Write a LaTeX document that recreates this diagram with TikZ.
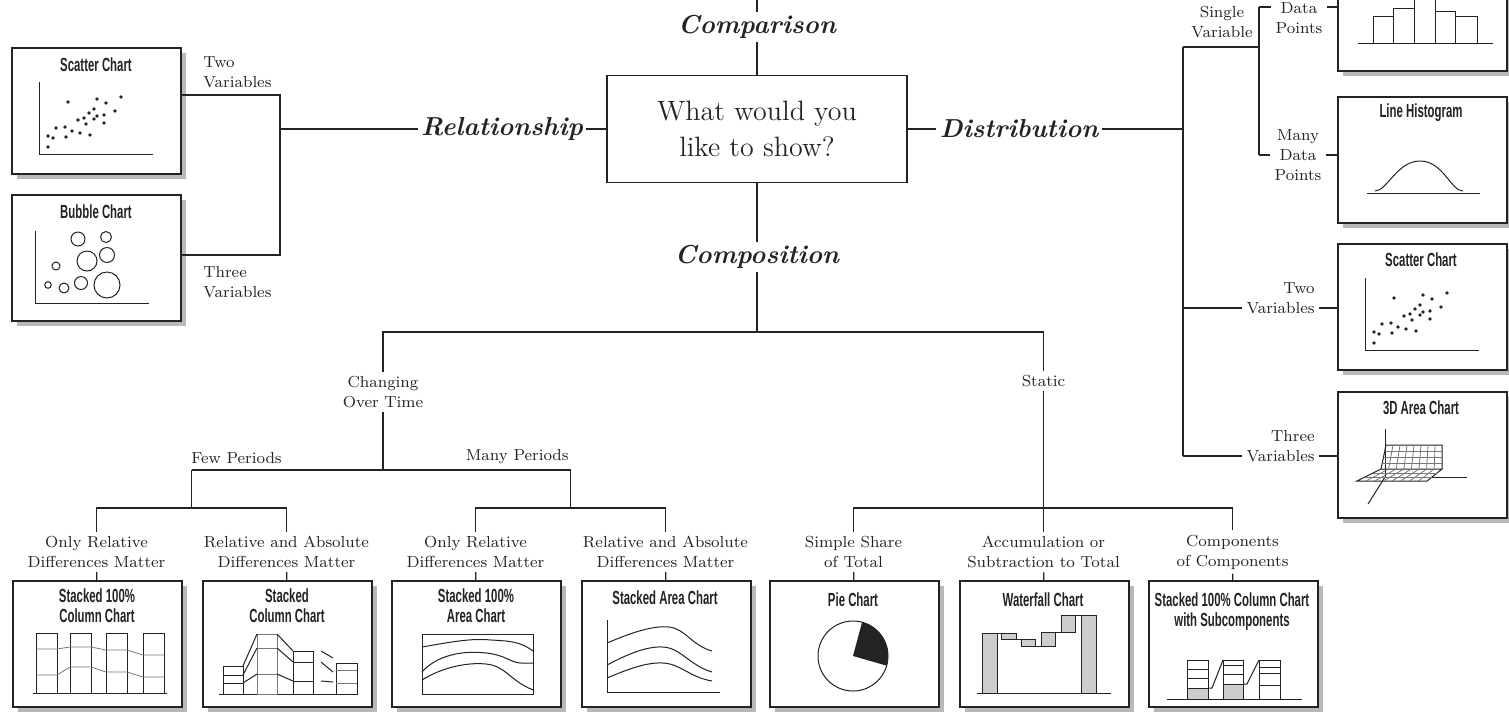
\documentclass[tikz,border=0pt]{standalone}
\usepackage{fontspec}
\usepackage{tikz}
\usetikzlibrary{positioning, shadows}
\newfontfamily\chartfont{Liberation Sans Bold}[FakeStretch=0.6]
\definecolor{ink}{RGB}{35,35,35}
\definecolor{shade}{RGB}{185,185,185}
\definecolor{lightfill}{RGB}{205,205,205}
\definecolor{midgray}{RGB}{120,120,120}

% scatter plot, drawn in box-local pixel coordinates
\newcommand{\scatterplot}{%
  \draw[chart] (28,35) -- (28,107) -- (142,107);
  \foreach \dx/\dy in {57/55, 86/52, 95/56, 110/50, 83/62, 78/66, 104/64, 93/68, 73/71,
      67/73, 86/69, 83/72, 75/77, 93/76, 45/81, 54/80, 61/84, 37/89, 42/91, 55/90,
      69/86, 79/88, 37/100}
    \fill[ink] (\dx,\dy) circle[radius=0.9pt];
}

\begin{document}
\begin{tikzpicture}[x=0.5pt, y=-0.5pt,
    every node/.style={text=ink},
    tree/.style={draw=ink, line width=0.65pt},
    chart/.style={draw=ink, line width=0.5pt},
    faint/.style={draw=midgray, line width=0.4pt},
    chartbox/.style={draw=ink, line width=0.9pt, fill=white, anchor=north west, inner sep=0pt,
        minimum width=84.5pt, minimum height=63pt,
        drop shadow={shadow xshift=2.5pt, shadow yshift=-2.5pt, fill=shade, opacity=1}},
    charttitle/.style={font=\chartfont\fontsize{9.5}{10}\selectfont, align=center, inner sep=0pt},
    branch/.style={font=\fontsize{8}{10}\selectfont, align=center, inner sep=2pt},
    topic/.style={font=\fontsize{13}{15}\selectfont\bfseries\itshape, inner sep=1.5pt}
  ]
  \useasboundingbox (0,0) rectangle (1509,714);
  \clip (0,0) rectangle (1509,714);

  % central question and the four topics
  \node[draw=ink, line width=0.75pt, minimum width=150pt, minimum height=53.5pt, align=center,
        font=\fontsize{14}{18}\selectfont] (q) at (757,129) {What would you\\like to show?};
  \node[topic] (cmp) at (757,27) {Comparison};
  \node[topic] (cps) at (757,257) {Composition};
  \node[topic] (rel) at (502,129) {Relationship};
  \node[topic] (dist) at (1019,129) {Distribution};
  \coordinate (top) at (757,0);
  \coordinate (cj) at (757,332);
  \draw[tree] (top) -- (cmp);
  \draw[tree] (cmp) -- (q);
  \draw[tree] (q) -- (cps);
  \draw[tree] (cps) -- (cj);
  \draw[tree] (q) -- (rel);
  \draw[tree] (q) -- (dist);

  % chart boxes
  \node[chartbox] (sctL) at (11,47) {};
  \node[chartbox] (bub) at (11,194) {};
  \node[chartbox] (hist) at (1337,-56) {};
  \node[chartbox] (lhist) at (1337,96) {};
  \node[chartbox] (sctR) at (1337,243) {};
  \node[chartbox] (area) at (1337,391) {};
  \node[chartbox] (pctcol) at (12,580) {};
  \node[chartbox] (stcol) at (202,580) {};
  \node[chartbox] (pctarea) at (391,580) {};
  \node[chartbox] (starea) at (581,580) {};
  \node[chartbox] (pie) at (769,580) {};
  \node[chartbox] (wfall) at (959,580) {};
  \node[chartbox] (subcol) at (1148,580) {};

  % relationship branch
  \coordinate (rj) at (280,129);
  \coordinate (rt) at (280,95);
  \coordinate (rb) at (280,255);
  \draw[tree] (rel) -- (rj);
  \draw[tree] (sctL.east |- rt) -- (rt) -- (rb) -- (bub.east |- rb);
  \node[branch, anchor=west, align=left] (tvL) at (199,72) {Two\\Variables};
  \node[branch, anchor=west, align=left] (thvL) at (199,282) {Three\\Variables};

  % distribution branch
  \coordinate (dt) at (1183,47);
  \coordinate (db) at (1183,456);
  \coordinate (tj) at (1183,308);
  \coordinate (sj) at (1259,47);
  \coordinate (s1) at (1259,7);
  \coordinate (s2) at (1259,155);
  \draw[tree] (dist) -- (dist -| dt);
  \draw[tree] (dt) -- (db);
  \draw[tree] (dt) -- (sj);
  \draw[tree] (s1) -- (s2);
  \node[branch] (sv) at (1222,22) {Single\\Variable};
  \node[branch] (fdp) at (1299,18) {Data\\Points};
  \node[branch] (mdp) at (1298,155) {Many\\Data\\Points};
  \node[branch, anchor=east, align=right] (tvR) at (1319,298) {Two\\Variables};
  \node[branch, anchor=east, align=right] (thvR) at (1319,446) {Three\\Variables};
  \draw[tree] (s1) -- (s1 -| fdp.west);
  \draw[tree] (s1 -| fdp.east) -- (s1 -| hist.west);
  \draw[tree] (s2) -- (mdp);
  \draw[tree] (mdp) -- (mdp -| lhist.west);
  \draw[tree] (tj) -- (tj -| tvR.west);
  \draw[tree] (tj -| tvR.east) -- (tj -| sctR.west);
  \draw[tree] (db) -- (db -| thvR.west);
  \draw[tree] (db -| thvR.east) -- (db -| area.west);

  % composition branch
  \node[branch] (chg) at (383,392) {Changing\\Over Time};
  \node[branch] (stc) at (1043.5,381) {Static};
  \draw[tree] (chg) |- (cj) -| (stc);
  \coordinate (fp) at (191.5,470);
  \coordinate (mp) at (570.5,470);
  \coordinate (fj) at (191.5,508);
  \coordinate (mj) at (570.5,508);
  \coordinate (sj2) at (1043.5,508);
  \draw[tree] (chg) -- (chg |- fp);
  \draw[tree] (fp) -- (mp);
  \draw[tree] (fp) -- (fj);
  \draw[tree] (mp) -- (mj);
  \draw[tree] (stc) -- (sj2);
  \node[branch, anchor=south west] (few) at (187,468) {Few Periods};
  \node[branch, anchor=south east] (many) at (573,468) {Many Periods};

  \node[branch] (or1) at (96.5,552) {Only Relative\\Differences Matter};
  \node[branch] (ra1) at (286.5,552) {Relative and Absolute\\Differences Matter};
  \node[branch] (or2) at (475.5,552) {Only Relative\\Differences Matter};
  \node[branch] (ra2) at (665.5,552) {Relative and Absolute\\Differences Matter};
  \node[branch] (sh) at (853.5,552) {Simple Share\\of Total};
  \node[branch] (acc) at (1043.5,552) {Accumulation or\\Subtraction to Total};
  \node[branch] (cc) at (1232.5,552) {Components\\of Components};
  \draw[tree] (or1) |- (fj) -| (ra1);
  \draw[tree] (or2) |- (mj) -| (ra2);
  \draw[tree] (sh) |- (sj2) -| (cc);
  \draw[tree] (sj2) -- (acc);
  \draw[tree] (or1) -- (pctcol);
  \draw[tree] (ra1) -- (stcol);
  \draw[tree] (or2) -- (pctarea);
  \draw[tree] (ra2) -- (starea);
  \draw[tree] (sh) -- (pie);
  \draw[tree] (acc) -- (wfall);
  \draw[tree] (cc) -- (subcol);

  % --- chart sketches, box-local pixel coordinates ---
  \begin{scope}[shift={(sctL.north west)}]
    \node[charttitle] (sctL-t) at (85,18) {Scatter Chart};
    \scatterplot
  \end{scope}

  \begin{scope}[shift={(bub.north west)}]
    \node[charttitle] (bub-t) at (85,18) {Bubble Chart};
    \draw[chart] (24,37) -- (24,109) -- (138,109);
    \foreach \bx/\by/\br in {67/45/7, 95/43/5.5, 76/67/10, 96/61/7.5, 45/72/4,
        37/91/3.3, 53/94/5, 70/89/6.5, 96/91/13}
      \draw[chart] (\bx,\by) circle[radius=\br*0.5pt];
  \end{scope}

  \begin{scope}[shift={(hist.north west)}]
    \draw[chart] (21,99) -- (156,99);
    \draw[chart] (36,99) rectangle (56,72);
    \draw[chart] (56,99) rectangle (77,64);
    \draw[chart] (77,99) rectangle (98,50);
    \draw[chart] (98,99) rectangle (118,67);
    \draw[chart] (118,99) rectangle (140,72);
  \end{scope}

  \begin{scope}[shift={(lhist.north west)}]
    \node[charttitle] (lhist-t) at (84,17) {Line Histogram};
    \draw[chart] (30,97) -- (143,97);
    \draw[chart] (38,95) .. controls (50,95) and (60,65) .. (83,65)
                 .. controls (106,65) and (114,95) .. (126,95);
  \end{scope}

  \begin{scope}[shift={(sctR.north west)}]
    \node[charttitle] (sctR-t) at (84,17) {Scatter Chart};
    \scatterplot
  \end{scope}

  \begin{scope}[shift={(area.north west)}]
    \node[charttitle] (area-t) at (84,17) {3D Area Chart};
    \draw[chart] (48,38) -- (48,86) -- (130,86);
    \draw[chart] (48,86) -- (31,113);
    \draw[chart] (20,90) -- (90,90) -- (105,78) -- (44,78) -- cycle;
    \draw[chart] (44,78) -- (49,54) -- (105,54) -- (105,78);
    \foreach \k in {1,...,7} {
      \pgfmathsetmacro\fa{20+8.75*\k}
      \pgfmathsetmacro\fb{44+7.6*\k}
      \pgfmathsetmacro\fc{49+7*\k}
      \draw[faint] (\fa,90) -- (\fb,78) -- (\fc,54);
    }
    \draw[faint] (28,86) -- (95,86);
    \draw[faint] (36,82) -- (100,82);
    \foreach \wy/\wx in {60/47.8, 66/46.5, 72/45.3}
      \draw[faint] (\wx,\wy) -- (105,\wy);
  \end{scope}

  \begin{scope}[shift={(pctcol.north west)}]
    \node[charttitle] (pctcol-t) at (85,26) {Stacked 100\%\\Column Chart};
    \draw[chart] (21,113) -- (155,113);
    \foreach \cx in {24,58,94,131}
      \draw[chart] (\cx,113) rectangle ++(21,-60);
    \draw[faint] (24,69) -- (45,69) -- (58,67) -- (79,67) -- (94,70) -- (115,70) -- (131,75) -- (152,75);
    \draw[faint] (24,95) -- (45,95) -- (58,87) -- (79,87) -- (94,92) -- (115,92) -- (131,97) -- (152,97);
  \end{scope}

  \begin{scope}[shift={(stcol.north west)}]
    \node[charttitle] (stcol-t) at (85,26) {Stacked\\Column Chart};
    \draw[chart] (17,114) -- (155,114);
    \draw[chart] (21,114) rectangle (41,86);
    \draw[faint] (55,114) rectangle (75,54);
    \draw[chart] (91,114) rectangle (111,71);
    \draw[chart] (134,114) rectangle (155,83);
    \draw[chart] (21,95) -- (41,95) (21,103) -- (41,103);
    \draw[faint] (55,68) -- (75,68) (55,94) -- (75,94);
    \draw[chart] (91,82) -- (111,82) (91,101) -- (111,101);
    \draw[faint] (134,90) -- (155,90) (134,103) -- (155,103);
    \draw[chart] (41,86) -- (55,54) (41,95) -- (55,68) (41,103) -- (55,94);
    \draw[chart] (75,54) -- (91,71) (75,68) -- (91,82) (75,94) -- (91,101);
    \draw[chart] (119,71) -- (131,78) (119,82) -- (131,92) (119,101) -- (131,102);
  \end{scope}

  \begin{scope}[shift={(pctarea.north west)}]
    \node[charttitle] (pctarea-t) at (85,26) {Stacked 100\%\\Area Chart};
    \draw[chart] (31,54) rectangle (142,114);
    \draw[chart] (31,67) .. controls (60,62) and (80,58) .. (100,60)
                 .. controls (120,61) and (130,62) .. (142,71);
    \draw[chart] (31,92) .. controls (45,76) and (70,70) .. (95,73)
                 .. controls (115,75) and (120,83) .. (130,83) -- (142,83);
    \draw[chart] (31,100) .. controls (50,88) and (75,82) .. (95,84)
                 .. controls (115,86) and (118,100) .. (142,110);
  \end{scope}

  \begin{scope}[shift={(starea.north west)}]
    \node[charttitle] (starea-t) at (84,18) {Stacked Area Chart};
    \draw[chart] (26,40) -- (26,112) -- (139,112);
    \draw[chart] (26,63) .. controls (45,55) and (70,45) .. (88,47)
                 .. controls (105,49) and (110,65) .. (131,71);
    \draw[chart] (26,85) .. controls (45,75) and (65,66) .. (82,67)
                 .. controls (100,68) and (108,85) .. (131,92);
    \draw[chart] (26,98) .. controls (45,90) and (65,82) .. (82,83)
                 .. controls (100,84) and (108,97) .. (131,101);
  \end{scope}

  \begin{scope}[shift={(pie.north west)}]
    \node[charttitle] (pie-t) at (84,20) {Pie Chart};
    \draw[chart] (84,76) circle[radius=17.5pt];
    \fill[ink] (84,76) -- ++(75:17.5pt) arc[start angle=75, end angle=-16, radius=17.5pt] -- cycle;
  \end{scope}

  \begin{scope}[shift={(wfall.north west)}]
    \node[charttitle] (wfall-t) at (84,20) {Waterfall Chart};
    \draw[chart] (18,113) -- (152,113);
    \draw[chart, fill=lightfill] (23,113) rectangle (38,53);
    \draw[chart, fill=lightfill] (42,53) rectangle (57,59);
    \draw[chart, fill=lightfill] (62,59) rectangle (76,66);
    \draw[chart, fill=lightfill] (82,66) rectangle (96,52);
    \draw[chart, fill=lightfill] (102,52) rectangle (116,35);
    \draw[chart, fill=lightfill] (122,113) rectangle (137,35);
    \draw[chart] (38,53) -- (42,53) (57,59) -- (62,59) (76,66) -- (82,66)
                 (96,52) -- (102,52) (116,35) -- (122,35);
  \end{scope}

  \begin{scope}[shift={(subcol.north west)}]
    \node[charttitle] (subcol-t) at (84,32) {Stacked 100\% Column Chart\\with Subcomponents};
    \fill[lightfill] (39,119) rectangle (60,108);
    \fill[lightfill] (75,119) rectangle (95,104);
    \draw[chart] (19,119) -- (154,119);
    \draw[chart] (39,119) rectangle (60,80);
    \draw[chart] (75,119) rectangle (95,80);
    \draw[chart] (111,119) rectangle (132,80);
    \draw[chart] (39,89) -- (60,89) (39,98) -- (60,98) (39,108) -- (60,108);
    \draw[chart] (75,85) -- (95,85) (75,94) -- (95,94) (75,104) -- (95,104);
    \draw[chart] (111,87) -- (132,87) (111,93) -- (132,93) (111,105) -- (132,105);
    \draw[chart] (60,108) -- (64,108) -- (75,80);
    \draw[chart] (95,104) -- (99,104) -- (111,80);
  \end{scope}
\end{tikzpicture}
\end{document}
